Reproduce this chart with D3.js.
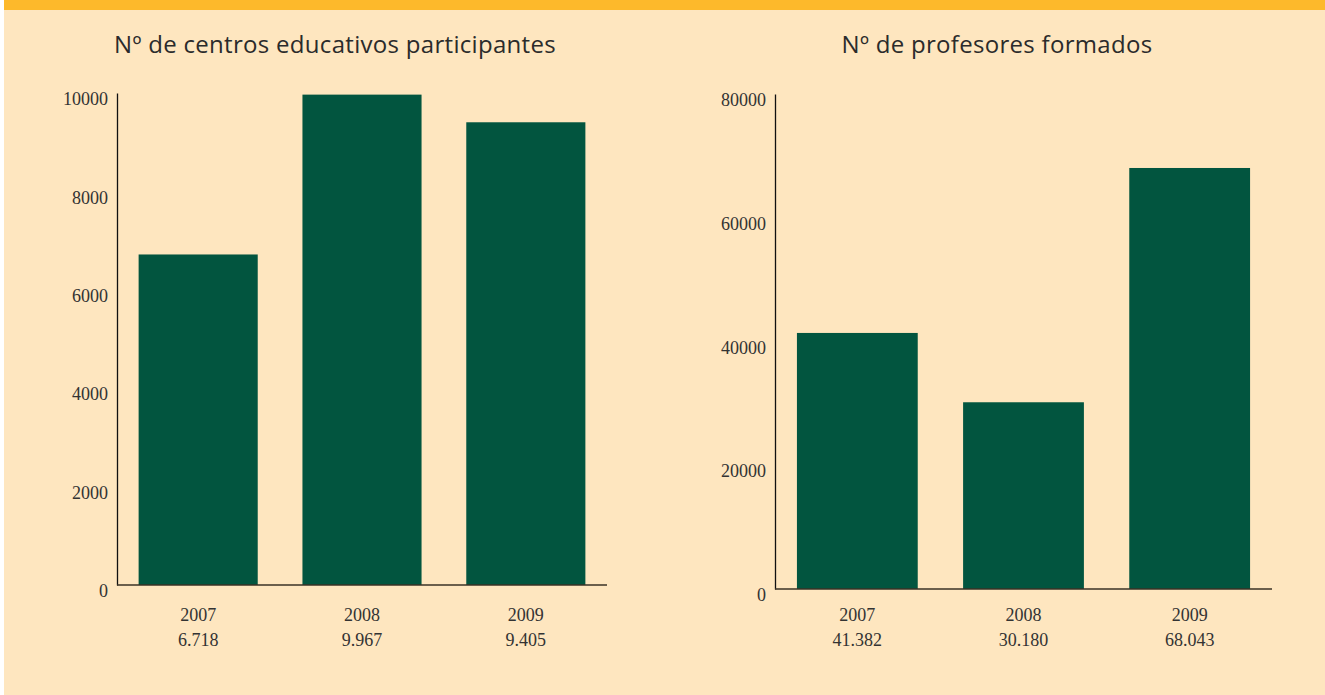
<!DOCTYPE html>
<head>
<meta charset="utf-8">
<style>
  body {
    margin:0;
    background:#fff;
  }
  .title {
    font-family:"Open Sans", Lato, sans-serif;
    font-size:24px;
    letter-spacing:0.3px;
    fill:#2b2b2b;
  }
  .tick text, .cat {
    font-family:"Liberation Serif", "Times New Roman", serif;
    font-size:18px;
    fill:#333;
  }
  .bar {
    fill:#02553f;
  }
</style>
</head>
<body>
<script src="https://cdn.jsdelivr.net/npm/d3@7"></script>
<script>

var width = 1325,
    height = 695;

// data
var years = ["2007", "2008", "2009"];
var centros = [6718, 9967, 9405];
var centrosLabels = ["6.718", "9.967", "9.405"];
var profesores = [41382, 30180, 68043];
var profesoresLabels = ["41.382", "30.180", "68.043"];
var centrosTicks = [0, 2000, 4000, 6000, 8000, 10000];
var profesoresTicks = [0, 20000, 40000, 60000, 80000];

var svg = d3.select("body").append("svg")
    .attr("width", width)
    .attr("height", height);

svg.append("rect")
    .attr("x", 4).attr("y", 0)
    .attr("width", width - 4).attr("height", height)
    .style("fill", "#fee6bf");

svg.append("rect")
    .attr("x", 4).attr("y", 0)
    .attr("width", width - 4).attr("height", 10)
    .style("fill", "#fdb92b");

// one panel: x0/x1 = axis extent, y0/y1 = zero and max pixel
function panel(opts) {
  var g = svg.append("g");

  var x = d3.scaleBand()
      .domain(years)
      .range([opts.x0, opts.x1])
      .paddingInner(0.273)
      .paddingOuter(0.132);

  var y = d3.scaleLinear()
      .domain([0, opts.max])
      .range([opts.y0, opts.y1]);

  g.append("text")
      .attr("class", "title")
      .attr("x", opts.titleX)
      .attr("y", 53)
      .attr("text-anchor", "middle")
      .text(opts.title);

  g.selectAll(".bar")
      .data(opts.values)
      .enter().append("rect")
      .attr("class", "bar")
      .attr("x", function(d, i) { return x(years[i]); })
      .attr("width", x.bandwidth())
      .attr("y", function(d) { return y(d); })
      .attr("height", function(d) { return y(0) - y(d); });

  var yAxis = g.append("g")
      .attr("transform", "translate(" + opts.x0 + ",0)")
      .call(d3.axisLeft(y).tickValues(opts.ticks).tickSize(0).tickPadding(9).tickFormat(d3.format("d")));
  yAxis.select(".domain").attr("stroke", "#111").attr("stroke-width", 1.3);
  yAxis.selectAll(".tick text").attr("dy", "0.65em").attr("fill", "#222");

  g.append("line")
      .attr("x1", opts.x0).attr("x2", opts.x1)
      .attr("y1", y(0)).attr("y2", y(0))
      .attr("stroke", "#3a3226")
      .attr("stroke-width", 1.5);

  g.selectAll(".year")
      .data(years)
      .enter().append("text")
      .attr("class", "cat")
      .attr("x", function(d) { return x(d) + x.bandwidth() / 2; })
      .attr("y", 621)
      .attr("text-anchor", "middle")
      .text(function(d) { return d; });

  g.selectAll(".val")
      .data(opts.labels)
      .enter().append("text")
      .attr("class", "cat")
      .attr("x", function(d, i) { return x(years[i]) + x.bandwidth() / 2; })
      .attr("y", 646)
      .attr("text-anchor", "middle")
      .text(function(d) { return d; });
}

panel({
  title: "Nº de centros educativos participantes",
  titleX: 335,
  values: centros, labels: centrosLabels, ticks: centrosTicks,
  max: 10000,
  x0: 117, x1: 607, y0: 585, y1: 93
});

panel({
  title: "Nº de profesores formados",
  titleX: 997,
  values: profesores, labels: profesoresLabels, ticks: profesoresTicks,
  max: 80000,
  x0: 775, x1: 1272, y0: 589, y1: 94
});

</script>
</body>
